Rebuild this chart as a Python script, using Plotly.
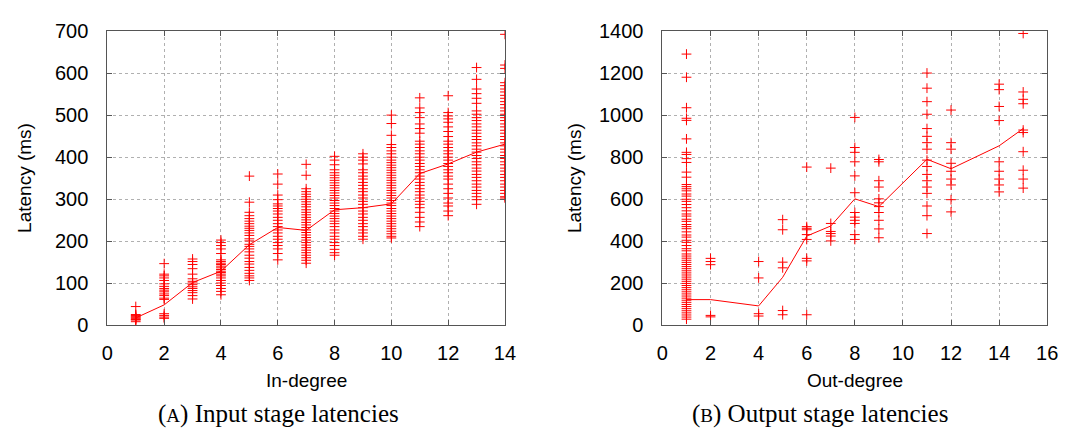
import plotly.graph_objects as go

# ---------------- Data: input stage (latency in ms by in-degree) ----------------
in_degree = [1, 2, 3, 4, 5, 6, 7, 8, 9, 10, 11, 12, 13, 14]
in_lat_1 = [45, 26, 24, 22, 20, 18, 16, 14, 13, 9]
in_lat_2 = [147, 122, 118, 113, 107, 99, 93, 88, 84, 80, 75, 71, 65, 62, 28, 24, 20, 17]
in_lat_3 = [158, 152, 145, 135, 122, 111, 105, 101, 97, 92, 88, 83, 78, 71, 63]
in_lat_4 = [203, 197, 190, 182, 171, 156, 152, 148, 145, 141, 137, 133, 129, 126, 122,
            118, 113, 107, 101, 95, 88, 81, 73]
in_lat_5 = [355, 293, 269, 261, 254, 248, 242, 236, 231, 226, 220, 214, 206, 201, 193,
            188, 182, 175, 167, 160, 152, 146, 138, 131, 124, 118, 113, 107]
in_lat_6 = [360, 336, 310, 299, 289, 284, 278, 272, 265, 257, 250, 242, 235, 227, 220,
            212, 205, 197, 190, 182, 171, 156]
in_lat_7 = [383, 357, 325, 318, 312, 306, 300, 294, 288, 282, 275, 269, 263, 257, 251,
            245, 239, 233, 227, 221, 215, 209, 203, 197, 191, 185, 179, 173, 167, 161,
            155, 148]
in_lat_8 = [402, 393, 382, 370, 363, 357, 351, 345, 339, 333, 327, 321, 315, 309, 303,
            297, 291, 285, 278, 272, 266, 260, 254, 248, 242, 235, 227, 220, 212, 205,
            197, 190, 181, 173, 167]
in_lat_9 = [408, 400, 393, 384, 370, 363, 355, 348, 340, 333, 325, 318, 310, 303, 295,
            288, 280, 272, 265, 257, 250, 242, 235, 227, 220, 212, 205]
in_lat_10 = [500, 480, 452, 430, 423, 415, 408, 400, 393, 387, 381, 375, 369, 363, 357,
             351, 345, 339, 333, 327, 321, 315, 309, 303, 297, 291, 285, 278, 272, 266,
             260, 254, 248, 242, 236, 230, 224, 218, 212, 208]
in_lat_11 = [541, 517, 506, 494, 479, 468, 457, 438, 431, 423, 415, 408, 400, 393, 385,
             378, 370, 363, 355, 348, 340, 333, 325, 318, 310, 303, 295, 288, 280, 269,
             257, 246, 235]
in_lat_12 = [546, 506, 498, 491, 483, 472, 461, 449, 438, 431, 423, 415, 408, 400, 393,
             385, 378, 370, 363, 355, 348, 336, 325, 314, 303, 291, 284, 272, 261]
in_lat_13 = [613, 585, 562, 551, 540, 528, 510, 502, 494, 487, 479, 472, 464, 457, 449,
             442, 434, 427, 419, 412, 404, 397, 389, 382, 374, 367, 359, 352, 344, 336,
             329, 321, 314, 306, 299, 288]
in_lat_14 = [692, 619, 611, 577, 570, 562, 555, 547, 540, 532, 525, 517, 510, 502, 494,
             487, 479, 472, 464, 457, 449, 442, 434, 427, 419, 412, 404, 397, 389, 382,
             374, 367, 359, 352, 344, 336, 329, 321, 314, 306, 303]
in_lat = [in_lat_1, in_lat_2, in_lat_3, in_lat_4, in_lat_5, in_lat_6, in_lat_7,
          in_lat_8, in_lat_9, in_lat_10, in_lat_11, in_lat_12, in_lat_13, in_lat_14]
in_mean = [18, 49, 102, 129, 192, 233, 226, 275, 280, 289, 361, 384, 412, 431]

# ---------------- Data: output stage (latency in ms by out-degree) ----------------
out_degree = [1, 2, 4, 5, 6, 7, 8, 9, 11, 12, 14, 15]
out_lat_1 = [1290, 1180, 1035, 985, 975, 887, 823, 813, 793, 775, 729, 705, 670, 660,
             650, 640, 625, 615, 600, 590, 575, 560, 545, 530, 520, 505, 495, 480, 470,
             460, 445, 430, 420, 405, 395, 380, 365, 355, 340, 330, 320, 310, 300, 290,
             280, 270, 260, 250, 240, 230, 220, 210, 200, 190, 180, 170, 160, 150, 140,
             130, 120, 110, 100, 90, 80, 70, 60, 50, 40, 30]
out_lat_2 = [319, 304, 289, 48, 41]
out_lat_4 = [304, 226, 56, 45]
out_lat_5 = [503, 455, 301, 274, 71, 51]
out_lat_6 = [753, 470, 462, 455, 432, 409, 319, 307, 51]
out_lat_7 = [748, 485, 447, 437, 425, 402]
out_lat_8 = [989, 846, 823, 778, 711, 631, 537, 515, 500, 485, 432, 409]
out_lat_9 = [789, 778, 688, 658, 602, 583, 565, 537, 500, 459, 417]
out_lat_11 = [1200, 1128, 1064, 1004, 936, 899, 869, 838, 786, 756, 718, 688, 658, 628,
              568, 522, 437]
out_lat_12 = [1024, 869, 838, 771, 733, 696, 668, 598, 540]
out_lat_14 = [1147, 1121, 1041, 974, 778, 733, 696, 668, 635]
out_lat_15 = [1388, 1110, 1075, 1054, 929, 917, 826, 738, 696, 653]
out_lat = [out_lat_1, out_lat_2, out_lat_4, out_lat_5, out_lat_6, out_lat_7, out_lat_8,
           out_lat_9, out_lat_11, out_lat_12, out_lat_14, out_lat_15]
out_mean = [123, 123, 93, 229, 425, 473, 602, 565, 790, 745, 854, 936]

# ---------------- Figure ----------------
RED = "#ff0000"
SANS = "Liberation Sans, Arial, sans-serif"
SERIF = "Liberation Serif, Times New Roman, serif"
W, H = 1073, 441


def expand(cats, groups):
    xs, ys = [], []
    for c, g in zip(cats, groups):
        xs.extend([c] * len(g))
        ys.extend(g)
    return xs, ys


fig = go.Figure()

ix, iy = expand(in_degree, in_lat)
ox, oy = expand(out_degree, out_lat)

marker = dict(symbol="cross-thin", size=7, color=RED, line=dict(color=RED, width=1))

fig.add_trace(go.Scatter(x=ix, y=iy, mode="markers", marker=marker,
                         xaxis="x", yaxis="y", showlegend=False))
fig.add_trace(go.Scatter(x=in_degree, y=in_mean, mode="lines",
                         line=dict(color=RED, width=1), xaxis="x", yaxis="y",
                         showlegend=False))
fig.add_trace(go.Scatter(x=ox, y=oy, mode="markers", marker=marker,
                         xaxis="x2", yaxis="y2", showlegend=False))
fig.add_trace(go.Scatter(x=out_degree, y=out_mean, mode="lines",
                         line=dict(color=RED, width=1), xaxis="x2", yaxis="y2",
                         showlegend=False))

L1, R1 = 103, 507
L2, R2 = 667, 1058
T, B = 21, 331
ydom = [1 - B / H, 1 - T / H]

axis_common = dict(
    showline=True, linecolor="#555555", linewidth=1, mirror="ticks",
    ticks="inside", ticklen=5, tickcolor="#555555",
    showgrid=True, gridcolor="#b0b0b0", griddash="dot", gridwidth=1,
    zeroline=False, tickfont=dict(family=SANS, size=20, color="#000000"),
)

fig.update_layout(
    width=W, height=H,
    margin=dict(l=0, r=0, t=0, b=0),
    paper_bgcolor="white", plot_bgcolor="white",
    xaxis=dict(domain=[L1 / W, R1 / W], range=[0, 14], dtick=2, anchor="y",
               ticklabelstandoff=10, **axis_common),
    yaxis=dict(domain=ydom, range=[0, 700], dtick=100, anchor="x",
               ticklabelstandoff=14, **axis_common),
    xaxis2=dict(domain=[L2 / W, R2 / W], range=[0, 16], dtick=2, anchor="y2",
                ticklabelstandoff=10, **axis_common),
    yaxis2=dict(domain=ydom, range=[0, 1400], dtick=200, anchor="x2",
                ticklabelstandoff=14, **axis_common),
)

ann = []
title_font = dict(family=SANS, size=19, color="#000000")
cap_font = dict(family=SERIF, size=25, color="#000000")
for cx, txt in [((L1 + R1) / 2, "In-degree"), ((L2 + R2) / 2, "Out-degree")]:
    ann.append(dict(x=cx / W, y=1 - 389 / H, xref="paper", yref="paper",
                    text=txt, showarrow=False, font=title_font,
                    xanchor="center", yanchor="middle"))
for cx in [19, 577]:
    ann.append(dict(x=cx / W, y=1 - ((T + B) / 2) / H, xref="paper", yref="paper",
                    text="Latency (ms)", showarrow=False, font=title_font,
                    textangle=-90, xanchor="center", yanchor="middle"))
for cx, letter, rest in [(277, "A", " Input stage latencies"),
                         (827, "B", " Output stage latencies")]:
    ann.append(dict(x=cx / W, y=1 - 424 / H, xref="paper", yref="paper",
                    text="(<span style='font-size:19px'>" + letter + "</span>)" + rest,
                    showarrow=False, font=cap_font,
                    xanchor="center", yanchor="middle"))
fig.update_layout(annotations=ann)

fig.write_html("out.html")
